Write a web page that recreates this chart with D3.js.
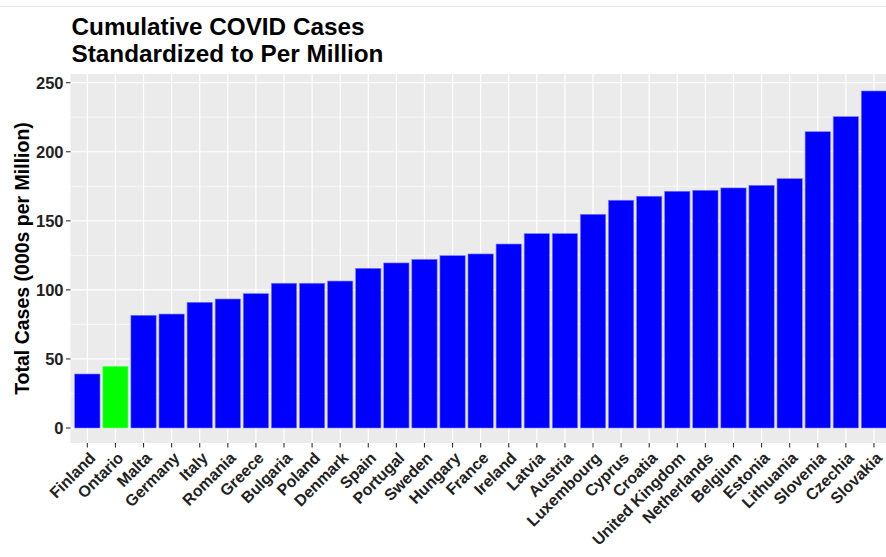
<!DOCTYPE html>
<html>
<head>
<meta charset="utf-8">
<script src="https://cdn.jsdelivr.net/npm/d3@7"></script>
<style>
  html, body { margin: 0; padding: 0; background: #fff; }
  svg { display: block; }
</style>
</head>
<body>
<svg id="chart" width="886" height="557"></svg>
<script>
const countries = ["Finland","Ontario","Malta","Germany","Italy","Romania","Greece","Bulgaria","Poland","Denmark","Spain","Portugal","Sweden","Hungary","France","Ireland","Latvia","Austria","Luxembourg","Cyprus","Croatia","United Kingdom","Netherlands","Belgium","Estonia","Lithuania","Slovenia","Czechia","Slovakia"];
const cases = [39.1,44.7,81.6,82.5,91.0,93.4,97.3,104.8,104.8,106.4,115.6,119.5,122.1,124.8,126.0,133.2,140.7,140.7,154.7,164.9,167.8,171.4,172.1,173.8,175.7,180.5,214.5,225.4,244.0];
const highlight = ["Ontario"];
const yTicks = [0,50,100,150,200,250];
const yMinor = [25,75,125,175,225];
const titleLines = ["Cumulative COVID Cases","Standardized to Per Million"];
const yTitle = "Total Cases (000s per Million)";

const svg = d3.select("#chart");
const font = "'Liberation Sans', Arial, sans-serif";
const panel = {left: 70.5, right: 890.8, top: 74, bottom: 443};

const x = d3.scaleBand().domain(countries).range([panel.left, panel.right]).paddingInner(0.1).paddingOuter(0.15);
const y = d3.scaleLinear().domain([0, 250]).range([428, 82.7]);

// faint top border line
svg.append("line").attr("x1", 0).attr("x2", 886).attr("y1", 6.5).attr("y2", 6.5)
  .attr("stroke", "#e3e9f0").attr("stroke-width", 1);

// panel background
svg.append("rect").attr("x", panel.left).attr("y", panel.top)
  .attr("width", panel.right - panel.left).attr("height", panel.bottom - panel.top)
  .attr("fill", "#EBEBEB");

const grid = svg.append("g");
grid.selectAll(".minor").data(yMinor).join("line")
  .attr("x1", panel.left).attr("x2", panel.right)
  .attr("y1", d => y(d)).attr("y2", d => y(d))
  .attr("stroke", "#fff").attr("stroke-width", 0.6);
grid.selectAll(".major").data(yTicks).join("line")
  .attr("x1", panel.left).attr("x2", panel.right)
  .attr("y1", d => y(d)).attr("y2", d => y(d))
  .attr("stroke", "#fff").attr("stroke-width", 1.2);
grid.selectAll(".vmajor").data(countries).join("line")
  .attr("x1", d => x(d) + x.bandwidth()/2).attr("x2", d => x(d) + x.bandwidth()/2)
  .attr("y1", panel.top).attr("y2", panel.bottom)
  .attr("stroke", "#fff").attr("stroke-width", 1.2);

// bars
svg.append("g").selectAll("rect").data(countries).join("rect")
  .attr("x", d => x(d)).attr("width", x.bandwidth())
  .attr("y", (d, i) => y(cases[i])).attr("height", (d, i) => y(0) - y(cases[i]))
  .attr("fill", d => highlight.includes(d) ? "#00FF00" : "#0000FF")
  .attr("stroke", d => highlight.includes(d) ? "#80ff80" : "#7a7aff")
  .attr("stroke-width", 0.6);

// y axis
const yAxis = svg.append("g");
yAxis.selectAll("line").data(yTicks).join("line")
  .attr("x1", panel.left - 4.5).attr("x2", panel.left)
  .attr("y1", d => y(d)).attr("y2", d => y(d))
  .attr("stroke", "#333").attr("stroke-width", 1.1);
yAxis.selectAll("text").data(yTicks).join("text")
  .attr("x", panel.left - 7).attr("y", d => y(d)).attr("dy", "0.36em")
  .attr("text-anchor", "end")
  .attr("font-family", font).attr("font-size", 16.5).attr("font-weight", "bold")
  .attr("fill", "#222").text(d => d);

// x axis
const xAxis = svg.append("g");
xAxis.selectAll("line").data(countries).join("line")
  .attr("x1", d => x(d) + x.bandwidth()/2).attr("x2", d => x(d) + x.bandwidth()/2)
  .attr("y1", panel.bottom).attr("y2", panel.bottom + 4.5)
  .attr("stroke", "#333").attr("stroke-width", 1.1);
xAxis.selectAll("text").data(countries).join("text")
  .attr("transform", d => `translate(${x(d) + x.bandwidth()/2 + 9},${panel.bottom + 16}) rotate(-45)`)
  .attr("text-anchor", "end")
  .attr("font-family", font).attr("font-size", 16).attr("font-weight", "bold")
  .attr("fill", "#222").text(d => d);

// y title
svg.append("text")
  .attr("transform", `translate(28.5,${(panel.top + panel.bottom)/2}) rotate(-90)`)
  .attr("text-anchor", "middle")
  .attr("font-family", font).attr("font-size", 19.5).attr("font-weight", "bold")
  .attr("fill", "#000").text(yTitle);

// title
svg.append("g").selectAll("text").data(titleLines).join("text")
  .attr("x", 71.5).attr("y", (d, i) => 35 + i * 27)
  .attr("font-family", font).attr("font-size", 24.3).attr("font-weight", "bold")
  .attr("fill", "#000").text(d => d);
</script>
</body>
</html>
